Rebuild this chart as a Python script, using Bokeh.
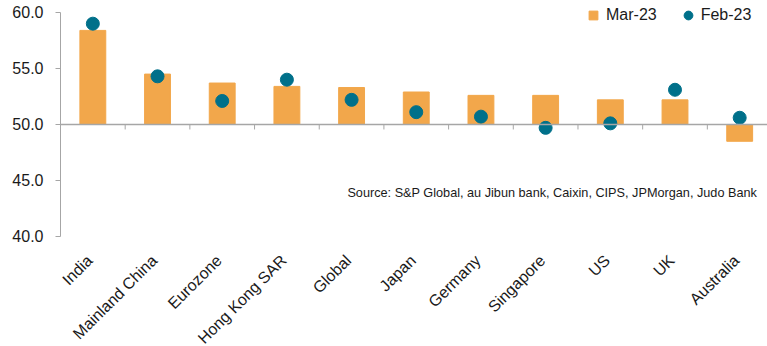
import math
from bokeh.plotting import figure
from bokeh.models import (Range1d, FixedTicker, Label, Legend, LegendItem, Span,
                          ColumnDataSource, NumeralTickFormatter)
from bokeh.core.properties import value
from bokeh.embed import file_html
from bokeh.resources import INLINE

categories = ["India", "Mainland China", "Eurozone", "Hong Kong SAR", "Global", "Japan",
              "Germany", "Singapore", "US", "UK", "Australia"]
mar23 = [58.4, 54.5, 53.7, 53.4, 53.3, 52.9, 52.6, 52.6, 52.2, 52.2, 48.5]
feb23 = [59.0, 54.3, 52.1, 54.0, 52.2, 51.1, 50.7, 49.7, 50.1, 53.1, 50.6]
y_ticks = [40, 45, 50, 55, 60]
source_note = "Source: S&P Global, au Jibun bank, Caixin, CIPS, JPMorgan, Judo Bank"

ORANGE = "#F2A74B"
TEAL = "#00708A"
GREY = "#A6A6A6"
TXT = "#1a1a1a"
FONT = "Liberation Sans"

n = len(categories)
BASE = 50                 # bars grow from the 50 line
PX_PER_UNIT = 11.2        # vertical scale used for the layout
Y_TOP = 61.07
Y_BOT = Y_TOP - 346 / PX_PER_UNIT

xs = [i + 0.5 for i in range(n)]
src = ColumnDataSource(dict(x=xs, cat=categories, mar=mar23, feb=feb23,
                            mid=[(BASE + m) / 2 for m in mar23],
                            lx=[x - 0.05 for x in xs], ly=[38.1] * n))

p = figure(width=767, height=346, output_backend="svg", toolbar_location=None,
           x_range=Range1d(0, 10.93), y_range=Range1d(Y_BOT, Y_TOP),
           min_border_left=60, min_border_right=0, min_border_top=0, min_border_bottom=0)
p.outline_line_color = None
p.grid.visible = False
p.xaxis.visible = False
p.background_fill_color = "white"
p.border_fill_color = "white"

# small squares hidden inside the bars: they only supply the legend swatch
leg_sq = p.scatter(x="x", y="mid", marker="square", size=6, source=src,
                   fill_color=ORANGE, line_color=ORANGE)
bars = p.vbar(x="x", top="mar", bottom=BASE, width=0.4, source=src,
              fill_color=ORANGE, line_color=ORANGE)

# category axis line at 50 with boundary ticks
p.add_layout(Span(location=BASE, dimension="width", line_color=GREY, line_width=1.5))
bx = list(range(n + 1))
p.segment(x0=bx, x1=bx, y0=[BASE] * (n + 1), y1=[BASE - 5 / PX_PER_UNIT] * (n + 1),
          line_color=GREY, line_width=1)

dots = p.scatter(x="x", y="feb", size=13, source=src, fill_color=TEAL, line_color=TEAL)

# category labels
p.text(x="lx", y="ly", text="cat", source=src, angle=math.pi / 4,
       text_align="right", text_baseline="middle",
       text_font=value(FONT), text_font_size="16px", text_color=TXT)

# y axis
ya = p.yaxis[0]
ya.ticker = FixedTicker(ticks=y_ticks)
ya.bounds = (40, 60)
ya.formatter = NumeralTickFormatter(format="0.0")
ya.axis_line_color = GREY
ya.major_tick_line_color = GREY
ya.major_tick_out = 5
ya.major_tick_in = 0
ya.minor_tick_line_color = None
ya.major_label_standoff = 12
ya.major_label_text_font = FONT
ya.major_label_text_font_size = "16px"
ya.major_label_text_color = TXT

p.add_layout(Label(x=10.77, y=43.9, text=source_note, text_align="right", text_baseline="middle",
                   text_font=FONT, text_font_size="12.7px", text_color=TXT))

legend = Legend(items=[LegendItem(label="Mar-23", renderers=[leg_sq]),
                       LegendItem(label="Feb-23", renderers=[dots])],
                orientation="horizontal", location=(522, 320),
                border_line_color=None, background_fill_alpha=0,
                label_text_font=FONT, label_text_font_size="16px", label_text_color=TXT,
                glyph_width=22, glyph_height=22, spacing=20, margin=0, padding=0,
                label_standoff=2)
p.add_layout(legend, "center")

open("out.html", "w").write(file_html(p, INLINE))
